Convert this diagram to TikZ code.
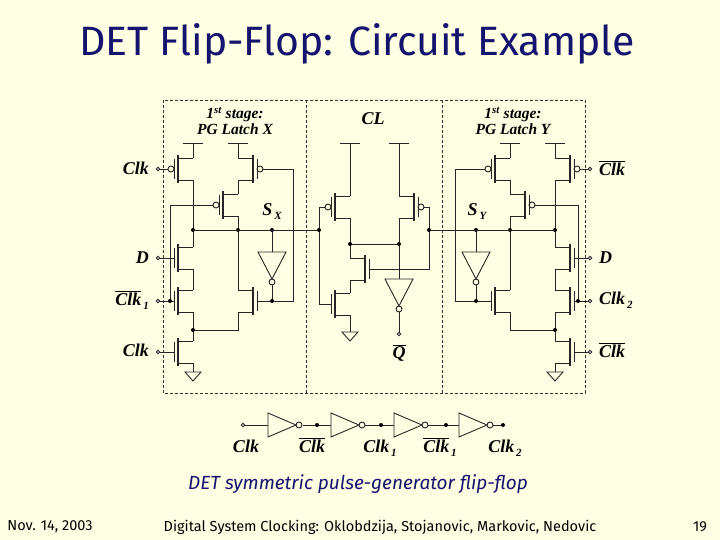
\documentclass[tikz,border=0pt]{standalone}
\usepackage{fontspec}
\setmainfont{Liberation Serif}
\newfontfamily\slidefont{Fira Sans}
\usetikzlibrary{positioning}

\definecolor{slidebg}{RGB}{255,255,228}
\definecolor{navy}{RGB}{20,20,110}

% transistors: x, y, lead side (1 = leads right, gate left)
\newcommand{\nfet}[3]{%
  \draw[wire] ({#1+#3*15},{#2-11}) -- (#1,{#2-11}) (#1,{#2+11}) -- ({#1+#3*15},{#2+11});
  \draw[wire, line width=1.6pt] (#1,{#2-14}) -- (#1,{#2+14});
  \draw[wire] ({#1-#3*4},{#2-10}) -- ({#1-#3*4},{#2+10});
}
\newcommand{\pfet}[3]{%
  \nfet{#1}{#2}{#3}
  \draw[wire] ({#1-#3*7},#2) circle (3);
}
\newcommand{\gnd}[2]{%
  \draw[wire] (#1,#2) -- ++(-8,0) -- ++(8,9) -- ++(8,-9) -- cycle;
}
\newcommand{\vdd}[2]{%
  \draw[wire] ({#1-10},#2) -- ({#1+10},#2);
}
% inverter pointing down: x, top y
\newcommand{\invdown}[2]{%
  \draw[wire] ({#1-14},#2) -- ({#1+14},#2) -- (#1,{#2+27}) -- cycle;
  \draw[wire] (#1,{#2+30}) circle (3);
}
% inverter pointing right: left x, y
\newcommand{\invright}[2]{%
  \draw[wire] (#1,{#2-12}) -- (#1,{#2+12}) -- ({#1+28},#2) -- cycle;
  \draw[wire] ({#1+31},#2) circle (3);
}
\newcommand{\lbl}[1]{\mbox{\bfseries\itshape #1}}
\newcommand{\sub}[1]{\raisebox{-4pt}{\fontsize{11}{12}\selectfont\bfseries\itshape\,#1}}
\newcommand{\ckbar}{$\overline{\lbl{Clk}}$}

\newcommand{\latch}{%
  \pfet{178}{169}{1}  \vdd{193}{143} \draw[wire] (193,143) -- (193,158);
  \pfet{253}{169}{-1} \vdd{238}{143} \draw[wire] (238,143) -- (238,158);
  \pfet{223}{205}{1}
  \nfet{178}{258}{1}
  \nfet{178}{301}{1}
  \nfet{178}{352}{1}
  \nfet{253}{301}{-1}
  % gates
  \draw[wire] (158,169) -- (168,169);
  \draw[wire] (263,169) -- (293,169) -- (293,301) -- (257,301);
  \draw[wire] (170,301) -- (170,205) -- (213,205);
  \draw[wire] (158,258) -- (174,258);
  \draw[wire] (158,301) -- (174,301);
  \draw[wire] (158,352) -- (174,352);
  % drains
  \draw[wire] (193,180) -- (193,247) (193,269) -- (193,290) (193,312) -- (193,341);
  \draw[wire] (193,363) -- (193,372);
  \gnd{193}{372}
  \draw[wire] (238,180) -- (238,194) (238,216) -- (238,290);
  \draw[wire] (238,312) -- (238,330) -- (193,330);
  % keeper inverter
  \draw[wire] (272,230) -- (272,252);
  \invdown{272}{252}
  \draw[wire] (272,285) -- (272,301);
  \foreach \px/\py in {193/230, 238/230, 272/230, 272/301, 170/301, 193/330}
    \fill (\px,\py) circle (2);
  \foreach \py in {169, 258, 301, 352}
    \draw[wire, fill=white] (158,\py) circle (1.8);
}

\begin{document}
\begin{tikzpicture}[x=1pt, y=-1pt,
    wire/.style={line width=0.9pt, draw=black!85},
    box/.style={densely dashed, line width=0.8pt, draw=black!80},
    pin/.style={font=\fontsize{18}{20}\selectfont\bfseries\itshape, inner sep=1pt},
    stage/.style={font=\fontsize{15.5}{16}\selectfont\bfseries\itshape, align=center},
    foot/.style={font=\slidefont\fontsize{14.5}{16}\selectfont},
]
  \fill[slidebg] (0,0) rectangle (720,540);
  \useasboundingbox (0,0) rectangle (720,540);

  %title
  \node[font=\slidefont\fontsize{41}{44}\selectfont, text=navy] (title) at (357,44) {DET Flip-Flop: Circuit Example};

  %boxes
  \draw[box] (163,100) rectangle (585,393);
  \draw[box] (306,100) -- (306,393) (442,100) -- (442,393);
  \node[stage] (stx) at (235,121) {1\textsuperscript{st} stage:\\PG Latch X};
  \node[stage] (sty) at (513,121) {1\textsuperscript{st} stage:\\PG Latch Y};
  \node[stage, font=\fontsize{18}{18}\selectfont\bfseries\itshape] (cl) at (373,119) {CL};

  %latches
  \latch
  \begin{scope}[xshift=748pt, xscale=-1]
    \latch
  \end{scope}

  %clocked logic
  \pfet{335}{207}{1}  \vdd{350}{143} \draw[wire] (350,143) -- (350,196);
  \pfet{414}{207}{-1} \vdd{399}{143} \draw[wire] (399,143) -- (399,196);
  \nfet{365}{269}{-1}
  \nfet{335}{304}{1}
  \draw[wire] (325,207) -- (319,207) -- (319,304) -- (331,304);
  \draw[wire] (424,207) -- (429,207) -- (429,269) -- (369,269);
  \draw[wire] (350,218) -- (350,258) (350,280) -- (350,293) (350,315) -- (350,332);
  \gnd{350}{332}
  \draw[wire] (350,244) -- (399,244);
  \draw[wire] (399,218) -- (399,279);
  \invdown{399}{279}
  \draw[wire] (399,312) -- (399,334);
  \draw[wire] (193,230) -- (319,230) (429,230) -- (555,230);
  \foreach \px/\py in {319/230, 429/230, 350/244, 399/244}
    \fill (\px,\py) circle (2);
  \draw[wire, fill=white] (399,334) circle (1.8);
  \node[pin] (qb) at (399,353) {$\overline{\lbl{Q}}$};

  %pin labels
  \node[pin, anchor=east] (ck1) at (150,168) {\lbl{Clk}};
  \node[pin, anchor=east] (d1) at (150,258) {\lbl{D}};
  \node[pin, anchor=east] (ckb1) at (150,300) {$\overline{\lbl{Clk}}$\sub{1}};
  \node[pin, anchor=east] (ck2) at (150,350) {\lbl{Clk}};
  \node[pin, anchor=west] (ckb2) at (598,168) {\ckbar};
  \node[pin, anchor=west] (d2) at (598,258) {\lbl{D}};
  \node[pin, anchor=west] (cktwo) at (598,300) {\lbl{Clk}\sub{2}};
  \node[pin, anchor=west] (ckb3) at (598,350) {\ckbar};
  \node[pin] (sx) at (272,212) {\lbl{S}\sub{X}};
  \node[pin] (sy) at (477,212) {\lbl{S}\sub{Y}};

  %clock chain
  \draw[wire] (243,425) -- (268,425) (303,425) -- (331,425) (365,425) -- (394,425)
              (428,425) -- (459,425) (493,425) -- (503,425);
  \invright{268}{425}
  \invright{331}{425}
  \invright{394}{425}
  \invright{459}{425}
  \draw[wire, fill=white] (243,425) circle (1.8);
  \foreach \px in {317, 381, 446, 503}
    \fill (\px,425) circle (2);
  \node[pin, anchor=base] (c0) at (246,452) {\lbl{Clk}};
  \node[pin, anchor=base] (c1) at (312,452) {\ckbar};
  \node[pin, anchor=base] (c2) at (380,452) {\lbl{Clk}\sub{1}};
  \node[pin, anchor=base] (c3) at (440,452) {$\overline{\lbl{Clk}}$\sub{1}};
  \node[pin, anchor=base] (c4) at (505,452) {\lbl{Clk}\sub{2}};

  %caption and footer
  \node[font=\slidefont\itshape\fontsize{19}{21}\selectfont, text=navy] (cap) at (358,484) {DET symmetric pulse-generator flip-flop};
  \node[foot] (date) at (50,527) {Nov. 14, 2003};
  \node[foot] (src) at (380,527) {Digital System Clocking: Oklobdzija, Stojanovic, Markovic, Nedovic};
  \node[foot] (page) at (700,527) {19};
\end{tikzpicture}
\end{document}
